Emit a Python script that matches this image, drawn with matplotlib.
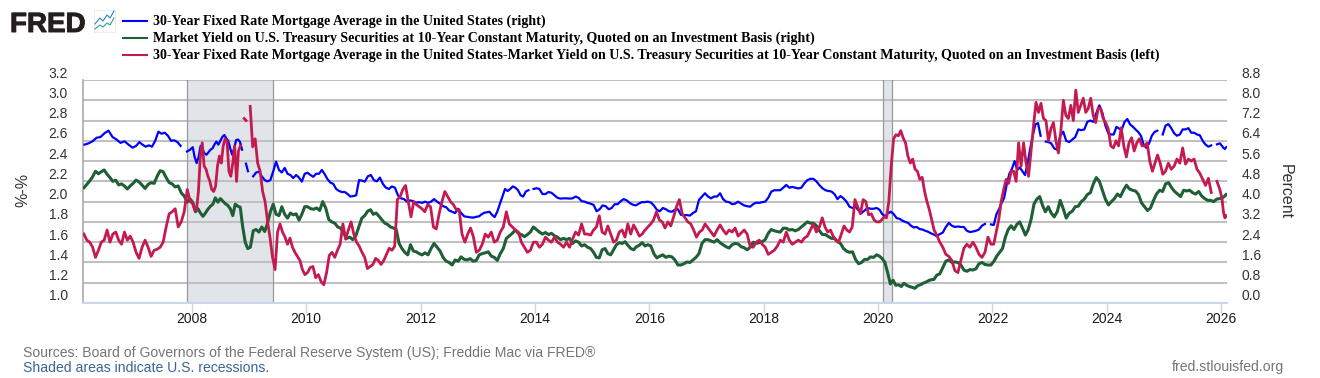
import numpy as np
import matplotlib
matplotlib.use("Agg")
import matplotlib.pyplot as plt
import matplotlib.patheffects as pe
from matplotlib.lines import Line2D
from matplotlib.patches import Rectangle
from matplotlib.transforms import ScaledTranslation

nan = float("nan")
years = list(range(2006, 2027))
x_start, x_end = 2006.09, 2026.10
recessions = [(2007.92, 2009.42), (2020.08, 2020.25)]
left_ticks = [1.0, 1.2, 1.4, 1.6, 1.8, 2.0, 2.2, 2.4, 2.6, 2.8, 3.0, 3.2]
right_ticks = [0.0, 0.8, 1.6, 2.4, 3.2, 4.0, 4.8, 5.6, 6.4, 7.2, 8.0, 8.8]
year_ticks = [2008, 2010, 2012, 2014, 2016, 2018, 2020, 2022, 2024, 2026]
legend_labels = [
    "30-Year Fixed Rate Mortgage Average in the United States (right)",
    "Market Yield on U.S. Treasury Securities at 10-Year Constant Maturity, Quoted on an Investment Basis (right)",
    "30-Year Fixed Rate Mortgage Average in the United States-Market Yield on U.S. Treasury Securities at 10-Year Constant Maturity, Quoted on an Investment Basis (left)",
]

# each inner list: one calendar year, values evenly spaced through it
mortgage = [
 [6.25,6.3,6.38,6.52,6.55,6.7,6.8,6.55,6.45,6.32,6.38,6.25,6.13],
 [6.2,6.35,6.25,6.17,6.22,6.17,6.4,6.76,6.68,6.72,6.6,6.4,6.42,6.35,6.2,nan,5.98,6.05],
 [6.15,5.75,5.52,5.77,6.2,6.05,5.9,5.85,5.95,6.05,6.1,6.25,6.37,6.25,6.4,6.55,6.63,6.5,6.4,6.1,5.85,6.1,6.43,6.45,6.35,6.05,nan,5.5,5.2],
 [nan,5.0,5.15,5.18,5.0,4.85,4.8,4.85,5.2,5.58,5.25,5.15,5.33,5.1,5.05,4.93,5.05,4.95,4.79,5.1],
 [5.14,5.05,4.98,5.1,5.1,5.25,5.08,4.88,4.75,4.7,4.5,4.42,4.38,4.38,4.3,4.2,4.22,4.25,4.85,4.83],
 [4.79,5.0,5.05,4.85,4.8,4.95,4.7,4.55,4.5,4.6,4.55,4.25,4.13,4.1,4.0,4.05,4.02,3.96,3.98],
 [3.95,4.0,3.95,4.0,4.1,4.0,3.92,3.82,3.78,3.65,3.6,3.55,3.72,3.55,3.42,3.4,3.38,3.37,3.4],
 [3.42,3.5,3.56,3.58,3.6,3.48,3.39,3.6,3.9,4.2,4.5,4.42,4.5,4.6,4.55,4.45,4.25,4.2,4.4,4.45,nan,4.5],
 [4.53,4.5,4.3,4.3,4.38,4.35,4.25,4.15,4.12,4.13,4.13,4.12,4.13,4.2,4.15,4.02,4.0,3.95,3.92],
 [3.87,3.62,3.7,3.85,3.82,3.7,3.75,3.9,3.9,4.02,4.1,4.05,3.95,3.88,3.85,3.92,3.98,3.98,4.0],
 [3.97,3.85,3.68,3.62,3.75,3.7,3.62,3.6,3.68,3.7,3.48,3.47,3.47,3.45,3.55,3.62,4.07,4.2,4.33],
 [4.2,4.13,4.2,4.2,4.33,4.1,4.0,3.98,3.9,3.92,4.0,3.92,3.85,3.82,3.8,3.9,3.96,3.95,3.98],
 [4.0,4.15,4.39,4.45,4.45,4.45,4.55,4.66,4.55,4.58,4.55,4.52,4.55,4.72,4.85,4.9,4.9,4.8,4.65],
 [4.53,4.45,4.42,4.4,4.3,4.1,4.22,4.13,4.0,3.8,3.75,3.8,3.65,3.55,3.65,3.75,3.72,3.72,3.75],
 [3.68,3.5,3.42,3.55,3.6,3.5,3.35,3.32,3.25,3.2,3.16,3.05,2.98,3.0,2.92,2.9,2.85,2.81,2.75,2.7],
 [2.64,2.72,2.78,3.0,3.16,3.05,3.0,3.02,3.0,3.0,2.85,2.8,2.82,2.85,2.9,3.05,3.12,nan,3.1],
 [3.08,3.5,3.7,3.95,4.15,4.7,5.1,5.3,5.6,5.25,5.35,5.2,5.05,5.5,6.1,6.6,7.05,7.1,6.6,nan,6.37,6.35],
 [6.3,6.1,6.05,6.6,6.76,6.4,6.35,6.45,6.55,6.85,6.82,6.85,7.15,7.2,7.15,7.5,7.8,7.5,7.0],
 [6.7,6.65,6.65,6.95,6.88,6.85,7.15,7.26,7.05,6.96,6.85,6.75,6.6,6.25,6.12,6.3,6.6,6.75,6.8,nan,6.65],
 [7.0,7.06,6.9,6.7,6.6,6.65,6.85,6.85,6.9,6.72,6.72,6.65,6.62,6.4,6.25,6.17,6.22,nan,6.26,6.3],
 [6.2,6.12,6.08,6.15],
]
treasury = [
 [4.55,4.68,4.82,4.98,5.2,5.1,5.18,5.25,5.08,4.95,4.8,4.85,4.66,4.7,4.62,4.5,4.62,4.72],
 [4.85,4.78,4.65,4.52,4.68,4.75,4.72,5.0,5.22,5.18,4.95,4.75,4.7,4.58,4.62,4.35,4.22,3.98,4.1],
 [3.95,3.6,3.72,3.55,3.42,3.55,3.7,3.82,3.9,4.15,3.98,4.12,4.02,3.92,3.85,3.72,3.45,3.9,3.82,3.78,3.0,2.4,2.15],
 [2.2,2.85,2.9,2.8,3.0,2.82,3.15,3.6,3.9,3.5,3.45,3.8,3.5,3.35,3.55,3.48,3.52,3.27,3.5,3.8],
 [3.8,3.72,3.7,3.75,3.65,4.0,3.75,3.3,3.2,3.15,3.0,2.95,2.75,2.55,2.6,2.5,2.65,3.0,3.35],
 [3.45,3.62,3.68,3.5,3.55,3.42,3.28,3.15,3.1,3.0,2.96,2.9,2.35,2.15,2.0,1.9,2.3,2.05,2.02,1.95],
 [1.9,1.98,1.9,2.15,2.35,2.2,2.05,1.8,1.65,1.6,1.5,1.7,1.65,1.82,1.72,1.7,1.75,1.65,1.68],
 [1.9,1.95,1.98,2.02,1.85,1.8,1.68,1.95,2.15,2.55,2.65,2.75,2.88,2.75,2.7,2.62,2.7,2.8,3.0],
 [2.9,2.8,2.72,2.78,2.7,2.75,2.65,2.6,2.5,2.55,2.5,2.55,2.35,2.45,2.4,2.25,2.3,2.2,2.15],
 [2.0,1.8,1.78,2.1,2.15,1.95,1.9,2.1,2.3,2.38,2.35,2.42,2.28,2.15,2.1,2.22,2.28,2.38,2.25,2.3],
 [2.25,1.95,1.78,1.85,1.9,1.8,1.85,1.82,1.7,1.5,1.5,1.55,1.62,1.6,1.7,1.8,1.95,2.35,2.5],
 [2.5,2.45,2.4,2.5,2.38,2.3,2.22,2.17,2.3,2.35,2.33,2.22,2.18,2.1,2.2,2.4,2.35,2.38,2.42],
 [2.5,2.75,2.9,2.85,2.82,2.8,2.95,2.95,2.88,2.9,2.85,2.9,3.0,3.1,3.2,3.15,3.15,3.05,2.85],
 [2.7,2.7,2.62,2.55,2.55,2.42,2.35,2.15,2.05,2.0,2.02,1.72,1.55,1.6,1.72,1.72,1.82,1.8,1.9],
 [1.85,1.75,1.6,1.2,0.75,0.9,0.7,0.72,0.65,0.78,0.7,0.65,0.62,0.58,0.68,0.72,0.78,0.82,0.88,0.92,0.93],
 [1.1,1.15,1.4,1.65,1.7,1.6,1.62,1.6,1.5,1.3,1.25,1.32,1.3,1.35,1.55,1.6,1.52,1.5,1.5],
 [1.65,1.85,2.0,2.15,2.6,2.9,3.05,2.9,3.1,3.2,2.95,2.68,2.9,3.3,3.9,4.1,4.2,3.85,3.6,3.8],
 [3.55,3.4,3.6,4.05,3.72,3.35,3.55,3.62,3.8,3.82,4.0,4.1,4.28,4.35,4.7,4.95,4.8,4.45,4.1],
 [3.87,4.0,4.12,4.3,4.2,4.45,4.65,4.5,4.45,4.42,4.28,3.95,3.8,3.65,3.75,4.05,4.3,4.45,4.4],
 [4.7,4.75,4.55,4.4,4.3,4.2,4.45,4.42,4.45,4.35,4.3,4.4,4.22,4.12,4.05,4.05,4.0,4.1,4.12],
 [4.15,4.2,4.28],
]
spread = [
 [1.68,1.62,1.6,1.55,1.45,1.52,1.6,1.62,1.72,1.6,1.68,1.7,1.62,1.58,1.7,1.62,1.66,1.6],
 [1.5,1.44,1.55,1.62,1.55,1.46,1.52,1.53,1.55,1.6,1.75,1.88,1.9,1.93,1.75,1.8,1.9,2.12,2.0],
 [1.98,1.92,1.92,2.1,2.45,2.58,2.35,2.32,2.25,2.2,2.12,2.1,2.15,2.35,2.45,2.38,2.55,2.62,2.6,2.3,2.25,2.38,2.55,2.2,2.5,2.55,nan,2.82,2.8,nan],
 [2.94,2.54,2.62,2.38,2.3,2.1,2.0,1.8,1.64,1.45,1.33,1.7,1.78,1.7,1.65,1.58,1.64,1.55,1.5,1.46,1.42,1.33,1.28],
 [1.3,1.35,1.36,1.25,1.28,1.21,1.18,1.3,1.47,1.5,1.45,1.52,1.58,1.78,1.63,1.72,1.8,1.68,1.6,1.56,1.5],
 [1.45,1.34,1.36,1.38,1.44,1.42,1.38,1.42,1.48,1.54,1.52,1.56,2.02,2.05,2.12,2.16,2.0,1.85,2.0,1.97,1.95],
 [1.93,1.9,1.97,1.95,1.75,1.73,1.88,2.0,2.1,2.05,2.0,1.97,1.92,1.92,1.68,1.6,1.68,1.74,1.65,1.5],
 [1.52,1.58,1.68,1.65,1.7,1.6,1.62,1.7,1.75,1.9,1.78,1.75,1.72,1.7,1.6,1.55,1.5,1.52,1.6],
 [1.6,1.55,1.58,1.65,1.62,1.6,1.65,1.6,1.58,1.55,1.6,1.55,1.63,1.7,1.67,1.78,1.68,1.68,1.67],
 [1.72,1.75,1.86,1.7,1.68,1.76,1.68,1.6,1.62,1.7,1.72,1.65,1.78,1.68,1.77,1.72,1.66,1.68,1.72,1.75],
 [1.78,1.82,1.9,1.82,1.8,1.74,1.8,1.76,1.85,1.95,2.02,1.88,1.84,1.8,1.78,1.72,1.65,1.7,1.72,1.78],
 [1.74,1.7,1.66,1.72,1.77,1.72,1.68,1.72,1.7,1.74,1.66,1.69,1.72,1.68,1.56,1.55,1.6,1.62,1.58],
 [1.55,1.48,1.5,1.52,1.56,1.62,1.6,1.7,1.62,1.58,1.6,1.62,1.6,1.64,1.66,1.72,1.78,1.7,1.75],
 [1.84,1.75,1.7,1.72,1.66,1.62,1.6,1.68,1.76,1.72,1.7,1.75,2.02,1.95,1.88,2.02,2.0,1.87,1.88,1.82,1.8],
 [1.8,1.82,1.85,1.84,2.0,2.35,2.62,2.66,2.65,2.7,2.63,2.58,2.45,2.38,2.42,2.32,2.3,2.22,2.24,2.1,2.0,1.92,1.82,1.72],
 [1.67,1.6,1.55,1.48,1.46,1.42,1.32,1.3,1.42,1.54,1.58,1.55,1.6,1.55,1.48,1.45,1.5,1.65,1.58],
 [1.58,1.7,1.82,2.0,2.12,2.22,2.18,2.3,2.3,2.2,2.58,2.35,2.58,2.38,2.25,2.5,2.75,2.98,2.88,2.97,2.82,2.8,2.6],
 [2.72,2.78,2.6,2.48,2.7,3.0,2.85,2.82,2.95,2.8,3.1,2.88,2.95,3.02,2.88,2.92,3.02,2.85,2.78,2.92,2.92,2.82,2.78],
 [2.72,2.55,2.53,2.6,2.55,2.73,2.55,2.44,2.58,2.63,2.5,2.58,2.62,2.55,2.55,2.58,2.4,2.3,2.38,2.46,2.38,2.27],
 [2.3,2.38,2.32,2.35,2.42,2.38,2.53,2.37,2.42,2.4,2.42,2.32,2.28,2.22,2.16,2.23,2.09,nan,2.2,2.12],
 [2.03,1.9,1.84,1.86],
]

BLUE, GREEN, RED = "#0000ff", "#1f5f35", "#c41a50"
GRID, AXIS = "#c0c0c0", "#ccd6eb"
W, H = 1320, 378


def flatten(by_year):
    xs, ys = [], []
    for yr, vals in zip(years, by_year):
        a = max(yr, x_start)
        b = min(yr + 1, x_end)
        n = len(vals)
        xs.extend(a + (np.arange(n) + 0.5) / n * (b - a))
        ys.extend(vals)
    return np.array(xs), np.array(ys)


plt.rcParams["font.family"] = ["Liberation Sans", "DejaVu Sans"]
fig = plt.figure(figsize=(W / 100, H / 100), dpi=100, facecolor="white")


def fx(p):
    return p / W


def fy(p):
    return 1 - p / H


ax_r = fig.add_axes([fx(82.5), fy(303), fx(1227 - 82.5), (303 - 80) / H])
ax_l = ax_r.twinx()
ax_r.set_xlim(x_start, x_end)
ax_r.set_ylim(right_ticks[0], right_ticks[-1])
ax_l.set_ylim(left_ticks[0], left_ticks[-1])
ax_l.patch.set_visible(False)

for a, b in recessions:
    ax_r.axvspan(a, b, facecolor="#e1e5ea", edgecolor="none", zorder=0.5)
ax_r.grid(axis="y", color=GRID, lw=1.5, zorder=1)
ax_r.set_axisbelow(True)
for a, b in recessions:
    for v in (a, b):
        ax_r.axvline(v, color="#999999", lw=0.9, zorder=1.5)

ax_r.plot(*flatten(mortgage), color=BLUE, lw=1.6, zorder=3, solid_joinstyle="round")
ax_r.plot(*flatten(treasury), color=GREEN, lw=2.2, zorder=3, solid_joinstyle="round")
ax_l.plot(*flatten(spread), color=RED, lw=2.0, zorder=3, solid_joinstyle="round")

for a in (ax_r, ax_l):
    for s in a.spines.values():
        s.set_visible(False)
ax_r.spines["bottom"].set_visible(True)
ax_r.spines["bottom"].set_color(AXIS)
ax_r.spines["bottom"].set_linewidth(1.5)
ax_r.spines["left"].set_visible(True)
ax_r.spines["left"].set_color("#aaaaaa")
ax_r.spines["left"].set_linewidth(1.2)

ax_r.set_xticks(year_ticks)
ax_r.set_xticklabels([str(y) for y in year_ticks])
ax_r.tick_params(axis="x", length=7, width=1, color=AXIS, labelsize=10, pad=-0.5, labelcolor="#1a1a1a")
ax_r.set_yticks(right_ticks)
ax_r.set_yticklabels([f"{v:.1f}" for v in right_ticks])
ax_l.set_yticks(left_ticks)
ax_l.set_yticklabels([f"{v:.1f}" for v in left_ticks])
ax_r.yaxis.tick_right()
ax_l.yaxis.tick_left()
ax_r.tick_params(axis="y", length=0, labelsize=10, pad=10.5, labelcolor="#333333")
ax_l.tick_params(axis="y", length=0, labelsize=10, pad=10.5, labelcolor="#333333")
lift = ScaledTranslation(0, 8 / 100, fig.dpi_scale_trans)
for a in (ax_r, ax_l):
    for lab in a.get_yticklabels():
        lab.set_transform(lab.get_transform() + lift)

fig.text(fx(23), fy(190), "%-%", rotation=90, ha="center", va="center", fontsize=11.5, color="#333333")
fig.text(fx(1285), fy(192), "Percent", rotation=270, ha="center", va="center", fontsize=11.5, color="#333333")

for y, col, label in zip((21, 38, 55), (BLUE, GREEN, RED), legend_labels):
    fig.add_artist(Line2D([fx(123), fx(147)], [fy(y), fy(y)], color=col, lw=1.5))
    fig.text(fx(153), fy(y), label, family="Liberation Serif", weight="bold", fontsize=10.07,
             va="center", ha="left", color="#000000")

fig.text(fx(23), fy(353), "Sources: Board of Governors of the Federal Reserve System (US); Freddie Mac via FRED\u00ae",
         fontsize=10.08, color="#757575", va="center", ha="left")
fig.text(fx(23), fy(367.5), "Shaded areas indicate U.S. recessions.", fontsize=10.08, color="#3c6499", va="center", ha="left")
fig.text(fx(1284), fy(367.5), "fred.stlouisfed.org", fontsize=10.08, color="#757575", va="center", ha="right")

# FRED logo
fig.text(fx(10), fy(32), "FRED", weight="bold", fontsize=20, color="#231f20", va="baseline", ha="left",
         path_effects=[pe.withStroke(linewidth=0.7, foreground="#231f20")])
fig.add_artist(Rectangle((fx(94), fy(32)), 21 / W, 22 / H, facecolor="white", edgecolor="#e6e6e6", lw=0.5))
fig.add_artist(Line2D([fx(v) for v in (95, 100, 103, 107, 110, 114)], [fy(v) for v in (24, 18, 21, 15, 18, 11)], color="#2f7fd0", lw=0.8))
fig.add_artist(Line2D([fx(v) for v in (95, 100, 103, 107, 110, 114)], [fy(v) for v in (29, 25, 27, 23, 25, 18)], color="#2aa198", lw=0.8))

fig.savefig("out.png", dpi=100, facecolor="white")
